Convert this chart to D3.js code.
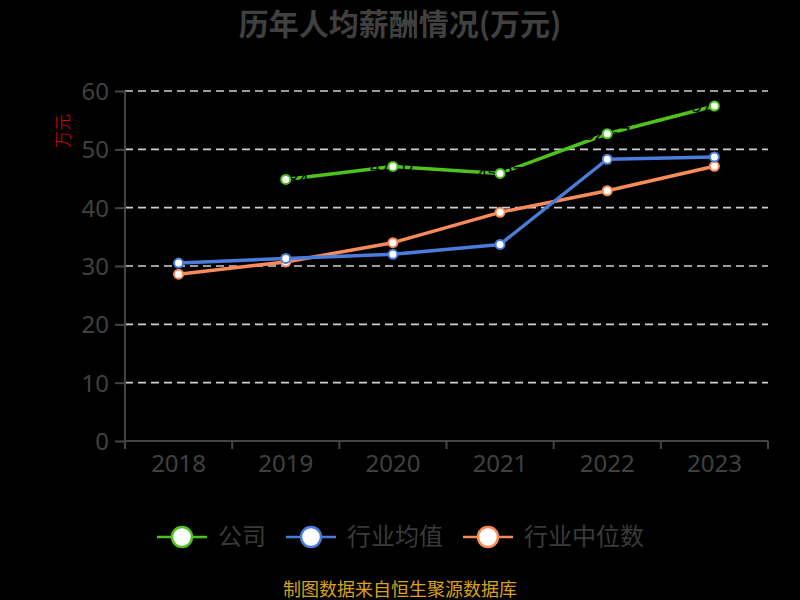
<!DOCTYPE html>
<html><head><meta charset="utf-8">
<script src="https://cdn.jsdelivr.net/npm/d3@7/dist/d3.min.js"></script>
<style>body{margin:0;background:#000;}svg{display:block;}</style>
</head><body>
<script>
const categories = ["2018","2019","2020","2021","2022","2023"];
const company = [null, 44.84, 47.07, 45.87, 52.67, 57.43];
const industryAvg = [30.5, 31.3, 32.0, 33.7, 48.3, 48.7];
const industryMedian = [28.6, 30.7, 34.0, 39.2, 42.9, 47.1];
const yTicks = [0,10,20,30,40,50,60];
const seriesNames = ["公司","行业均值","行业中位数"];
const colors = ["#4fc21c","#4a7ddb","#f98b5b"];
const title = "历年人均薪酬情况(万元)";
const yName = "万元";
const footer = "制图数据来自恒生聚源数据库";

const W=800,H=600;
const svg=d3.select("body").append("svg").attr("width",W).attr("height",H).style("background","#000");
const font='"Noto Sans","Noto Sans CJK SC",sans-serif';
const x=d3.scaleBand().domain(categories).range([125,768]).padding(0);
const y=d3.scaleLinear().domain([0,60]).range([441,91]);

// title
svg.append("text").attr("x",400).attr("y",35).attr("text-anchor","middle")
 .attr("font-family",'"Noto Sans CJK SC",sans-serif').attr("font-weight","bold").attr("font-size",30)
 .attr("fill","#404040").text(title);

// grid
svg.append("g").selectAll("line").data(yTicks.filter(d=>d>0)).join("line")
 .attr("x1",125).attr("x2",768).attr("y1",d=>y(d)).attr("y2",d=>y(d))
 .attr("stroke","#d0d0d0").attr("stroke-width",1.6).attr("stroke-dasharray","8,5");

// y axis
const ya=svg.append("g").attr("transform","translate(125,0)")
 .call(d3.axisLeft(y).tickValues(yTicks).tickSize(10).tickPadding(6));
ya.select(".domain").attr("stroke","#444").attr("stroke-width",2).attr("d","M0,441V91");
ya.selectAll(".tick line").attr("stroke","#444").attr("stroke-width",2);
ya.selectAll(".tick text").attr("fill","#404040").attr("font-size",24).attr("font-family",font).attr("dy","0.35em");

// x axis
const xa=svg.append("g").attr("transform","translate(0,441)")
 .call(d3.axisBottom(x).tickSize(0).tickPadding(14));
xa.select(".domain").attr("stroke","#444").attr("stroke-width",2).attr("d","M125,0H768");
xa.selectAll(".tick text").attr("fill","#404040").attr("font-size",24).attr("font-family",font);
svg.append("g").selectAll("line").data(d3.range(categories.length+1)).join("line")
 .attr("x1",i=>125+i*x.bandwidth()).attr("x2",i=>125+i*x.bandwidth())
 .attr("y1",441).attr("y2",449).attr("stroke","#444").attr("stroke-width",2);

// y name
svg.append("text").attr("transform","translate(63,131) rotate(-90)").attr("text-anchor","middle")
 .attr("dy","0.35em").attr("font-family",'"Noto Sans CJK SC",sans-serif').attr("font-weight","300").attr("font-size",17)
 .attr("fill","#e00000").text(yName);

const cx=d=>x(d)+x.bandwidth()/2;
const allSeries=[company,industryAvg,industryMedian];
const line=d3.line().defined(d=>d.v!=null).x(d=>cx(d.c)).y(d=>y(d.v));
[2,1,0].forEach(si=>{
  const data=categories.map((c,i)=>({c,v:allSeries[si][i]}));
  svg.append("path").datum(data).attr("d",line).attr("fill","none")
   .attr("stroke",colors[si]).attr("stroke-width",3.5).attr("stroke-linejoin","round");
  if(si===0){
    svg.append("g").selectAll("text").data(data.filter(d=>d.v!=null)).join("text")
     .attr("x",d=>cx(d.c)).attr("y",d=>y(d.v)).attr("dy","0.35em").attr("text-anchor","middle")
     .attr("font-family",font).attr("font-size",18).attr("fill","#000").text(d=>d.v.toFixed(2));
  }
  svg.append("g").selectAll("circle").data(data.filter(d=>d.v!=null)).join("circle")
   .attr("cx",d=>cx(d.c)).attr("cy",d=>y(d.v)).attr("r",4.5)
   .attr("fill","#fff").attr("stroke",colors[si]).attr("stroke-width",2);
});

// legend
const legX=[157,286,463];
seriesNames.forEach((n,i)=>{
  const g=svg.append("g").attr("transform",`translate(${legX[i]},537)`);
  g.append("line").attr("x1",0).attr("x2",50).attr("stroke",colors[i]).attr("stroke-width",2.5);
  g.append("circle").attr("cx",25).attr("r",10).attr("fill","#fff").attr("stroke",colors[i]).attr("stroke-width",2.5);
  g.append("text").attr("x",61).attr("dy","0.35em").attr("font-family",'"Noto Sans CJK SC",sans-serif')
   .attr("font-size",24).attr("fill","#3a3a3a").text(n);
});

// footer
svg.append("text").attr("x",400).attr("y",590).attr("dy","0.35em").attr("text-anchor","middle")
 .attr("font-family",'"Noto Sans CJK SC",sans-serif').attr("font-size",18).attr("fill","#d9a21b").text(footer);
</script>
</body></html>
